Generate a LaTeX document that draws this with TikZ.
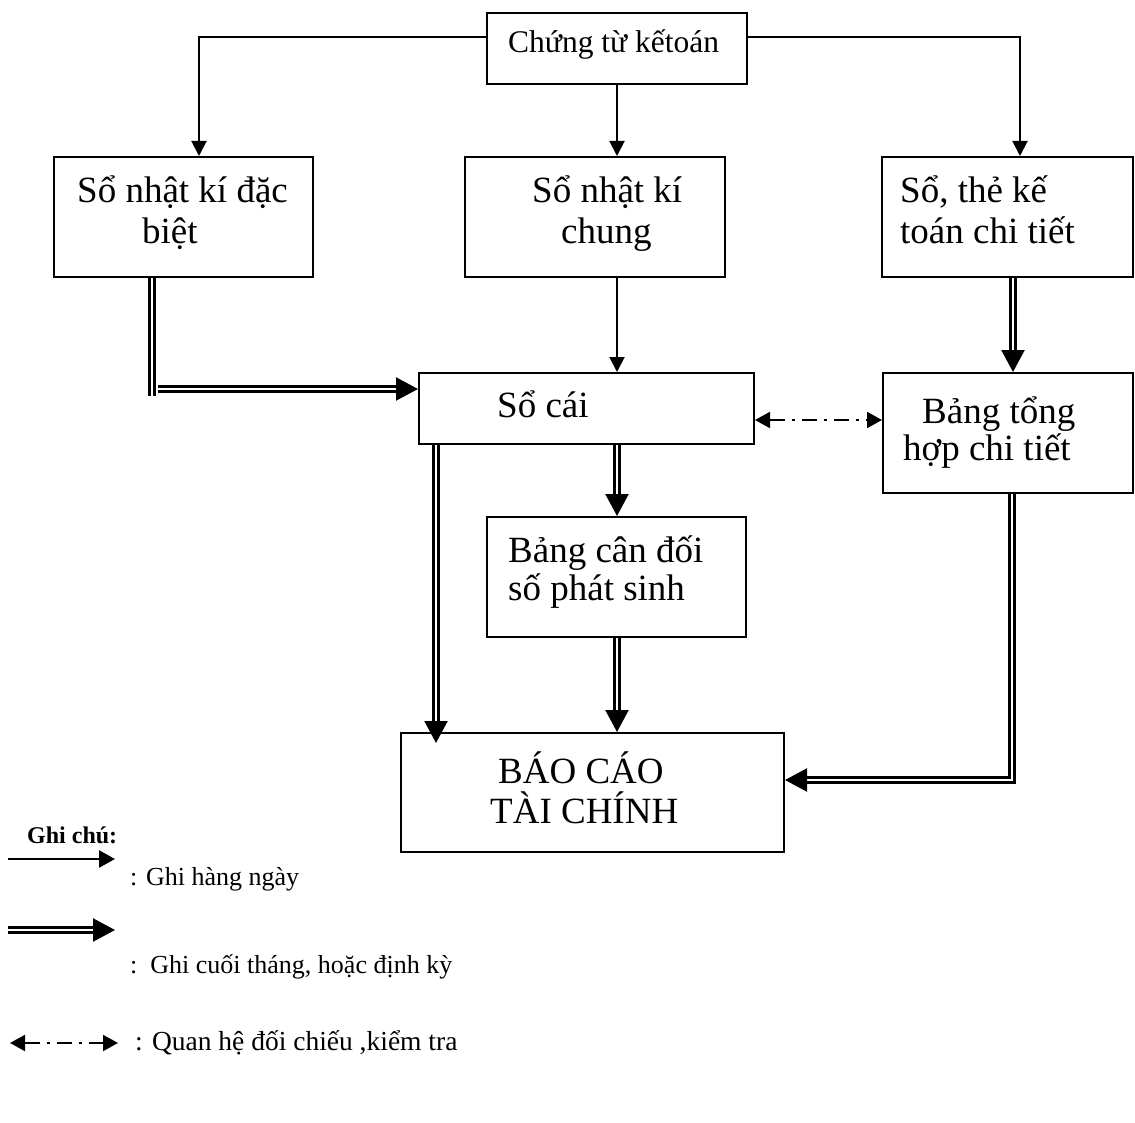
\documentclass[tikz,border=0pt]{standalone}
\usepackage{fontspec}
\setmainfont{Liberation Serif}
\usetikzlibrary{arrows.meta}
\begin{document}
\begin{tikzpicture}[x=1pt,y=-1pt,
 box/.style={draw, line width=2pt, inner sep=0pt},
 big/.style={font=\fontsize{37}{44}\selectfont, inner sep=0pt, anchor=base west},
 small/.style={font=\fontsize{31.5}{36}\selectfont, inner sep=0pt, anchor=base west},
 leg/.style={font=\fontsize{26}{30}\selectfont, inner sep=0pt, anchor=base west},
 sgl/.style={line width=2pt, -{Triangle[length=15pt,width=15pt]}},
 sglleg/.style={line width=2.5pt, -{Triangle[length=16pt,width=17pt]}},
 dbl/.style={double, double distance=2.6pt, line width=2.3pt},
 dblar/.style={dbl, -{Triangle[length=22pt,width=23pt]}},
 dd/.style={line width=2pt, dash pattern=on 15pt off 7pt on 3pt off 7pt, {Triangle[length=15pt,width=16pt]}-{Triangle[length=15pt,width=16pt]}},
]
\useasboundingbox (0,0) rectangle (1135,1123);
% boxes
\node[box, minimum width=260pt, minimum height=71pt] (ctkt) at (617,48.5) {};
\node[box, minimum width=259pt, minimum height=120pt] (sndb) at (183.5,217) {};
\node[box, minimum width=260pt, minimum height=120pt] (snkc) at (595,217) {};
\node[box, minimum width=251pt, minimum height=120pt] (stkt) at (1007.5,217) {};
\node[box, minimum width=335pt, minimum height=71pt] (socai) at (586.5,408.5) {};
\node[box, minimum width=250pt, minimum height=120pt] (bth) at (1008,433) {};
\node[box, minimum width=259pt, minimum height=120pt] (bcd) at (616.5,577) {};
\node[box, minimum width=383pt, minimum height=119pt] (bctc) at (592.5,792.5) {};
% texts
\node[small] (t1) at (508,53) {Chứng từ kếtoán};
\node[big] (t2a) at (77,203) {Sổ nhật kí đặc};
\node[big] (t2b) at (142,244) {biệt};
\node[big] (t3a) at (532,203) {Sổ nhật kí};
\node[big] (t3b) at (561,244) {chung};
\node[big] (t4a) at (900,203) {Sổ, thẻ kế};
\node[big] (t4b) at (900,244) {toán chi tiết};
\node[big] (t5) at (497,417) {Sổ cái};
\node[big] (t6a) at (922,423) {Bảng tổng};
\node[big] (t6b) at (903,460) {hợp chi tiết};
\node[big] (t7a) at (508,562) {Bảng cân đối};
\node[big] (t7b) at (508,600) {số phát sinh};
\node[big] (t8a) at (498,783) {BÁO CÁO};
\node[big] (t8b) at (490,823) {TÀI CHÍNH};
% single arrows
\draw[sgl] (ctkt.west |- 0,37) -| (sndb.north -| 199,0);
\draw[sgl] (ctkt.east |- 0,37) -| (stkt.north -| 1020,0);
\draw[sgl] (ctkt.south -| 617,0) -- (snkc.north -| 617,0);
\draw[sgl] (snkc.south -| 617,0) -- (socai.north -| 617,0);
% double arrows
\coordinate (k1) at (152,396);
\draw[dbl] (sndb.south -| k1) -- (k1);
\draw[dblar] (158,389) -- (socai.west |- 0,389);
\draw[dblar] (stkt.south -| 1013,0) -- (bth.north -| 1013,0);
\coordinate (k2) at (436,743);
\draw[dblar] (socai.south -| k2) -- (k2);
\draw[dblar] (socai.south -| 617,0) -- (bcd.north -| 617,0);
\draw[dblar] (bcd.south -| 617,0) -- (bctc.north -| 617,0);
\draw[dblar] (bth.south -| 1012,0) |- (bctc.east |- 0,780);
% dash-dot
\draw[dd] (socai.east |- 0,420) -- (bth.west |- 0,420);
% legend
\node[font=\fontsize{24}{28}\selectfont\bfseries, inner sep=0pt, anchor=base west] (lg) at (27,843) {Ghi chú:};
\coordinate (l1a) at (8,859); \coordinate (l1b) at (115,859);
\draw[sglleg] (l1a) -- (l1b);
\node[leg] (lt1) at (130,885) {: Ghi hàng ngày};
\coordinate (l2a) at (8,930); \coordinate (l2b) at (115,930);
\draw[dblar] (l2a) -- (l2b);
\node[leg] (lt2) at (130,973) {:\ \ Ghi cuối tháng, hoặc định kỳ};
\coordinate (l3a) at (10,1043); \coordinate (l3b) at (118,1043);
\draw[dd] (l3a) -- (l3b);
\node[leg, font=\fontsize{27.5}{32}\selectfont] (lt3) at (135,1050) {: Quan hệ đối chiếu ,kiểm tra};
\end{tikzpicture}
\end{document}
